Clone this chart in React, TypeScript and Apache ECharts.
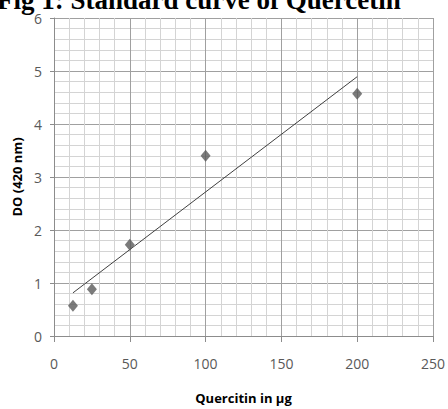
import React, { useEffect, useRef } from "react";
import * as echarts from "echarts";

const xValues = [12.5, 25, 50, 100, 200];
const yValues = [0.57, 0.88, 1.72, 3.4, 4.57];
const xTicks = [0, 50, 100, 150, 200, 250];
const yTicks = [0, 1, 2, 3, 4, 5, 6];
const titleText = "Fig 1: Standard curve of Quercetin";
const xTitle = "Quercitin in µg";
const yTitle = "DO (420 nm)";

function regression(xs: number[], ys: number[]) {
  const n = xs.length;
  const mx = xs.reduce((a, b) => a + b, 0) / n;
  const my = ys.reduce((a, b) => a + b, 0) / n;
  let sxy = 0;
  let sxx = 0;
  for (let i = 0; i < n; i++) {
    sxy += (xs[i] - mx) * (ys[i] - my);
    sxx += (xs[i] - mx) * (xs[i] - mx);
  }
  const slope = sxy / sxx;
  return { slope, intercept: my - slope * mx };
}

export default function App() {
  const ref = useRef<HTMLDivElement>(null);
  useEffect(() => {
    if (!ref.current) return;
    const chart = echarts.init(ref.current, null, { renderer: "svg" });
    const { slope, intercept } = regression(xValues, yValues);
    const xMin = Math.min(...xValues);
    const xMax = Math.max(...xValues);
    const trend = [
      [xMin, intercept + slope * xMin],
      [xMax, intercept + slope * xMax],
    ];
    const labelStyle = {
      color: "#595959",
      fontFamily: "Open Sans",
      fontSize: 14,
    };
    const nameStyle = {
      fontFamily: "Open Sans",
      fontWeight: "bold",
      fontSize: 13,
      color: "#000000",
    };
    chart.setOption({
      animation: false,
      backgroundColor: "#ffffff",
      grid: { left: 54, right: 15, top: 18, bottom: 70 },
      graphic: [
        {
          type: "text",
          left: -3,
          top: -14,
          style: {
            text: titleText,
            font: "bold 27px 'Liberation Serif'",
            fill: "#000000",
          },
        },
      ],
      xAxis: {
        type: "value",
        min: xTicks[0],
        max: xTicks[xTicks.length - 1],
        interval: 50,
        name: xTitle,
        nameLocation: "middle",
        nameGap: 55,
        nameTextStyle: nameStyle,
        axisLine: { show: true, lineStyle: { color: "#8c8c8c", width: 1 } },
        axisTick: { show: true, length: 6, lineStyle: { color: "#8c8c8c" } },
        axisLabel: { ...labelStyle, margin: 20 },
        splitLine: { show: true, lineStyle: { color: "#a0a0a0", width: 1 } },
        minorTick: { show: false, splitNumber: 5 },
        minorSplitLine: { show: true, lineStyle: { color: "#d4d4d4", width: 1 } },
      },
      yAxis: {
        type: "value",
        min: yTicks[0],
        max: yTicks[yTicks.length - 1],
        interval: 1,
        name: yTitle,
        nameLocation: "middle",
        nameGap: 30,
        nameTextStyle: nameStyle,
        axisLine: { show: true, lineStyle: { color: "#8c8c8c", width: 1 } },
        axisTick: { show: true, length: 4, lineStyle: { color: "#8c8c8c" } },
        axisLabel: { ...labelStyle, margin: 12 },
        splitLine: { show: true, lineStyle: { color: "#a0a0a0", width: 1 } },
        minorTick: { show: false, splitNumber: 5 },
        minorSplitLine: { show: true, lineStyle: { color: "#d4d4d4", width: 1 } },
      },
      series: [
        {
          type: "line",
          data: trend,
          symbol: "none",
          lineStyle: { color: "#404040", width: 1 },
          z: 2,
        },
        {
          type: "scatter",
          data: xValues.map((x, i) => [x, yValues[i]]),
          symbol: "diamond",
          symbolSize: [10, 12],
          itemStyle: { color: "#5a5a5a" },
          z: 3,
        },
      ],
    });
    return () => chart.dispose();
  }, []);
  return (
    <div
      ref={ref}
      style={{ position: "fixed", left: 0, top: 0, width: 448, height: 409 }}
    />
  );
}
